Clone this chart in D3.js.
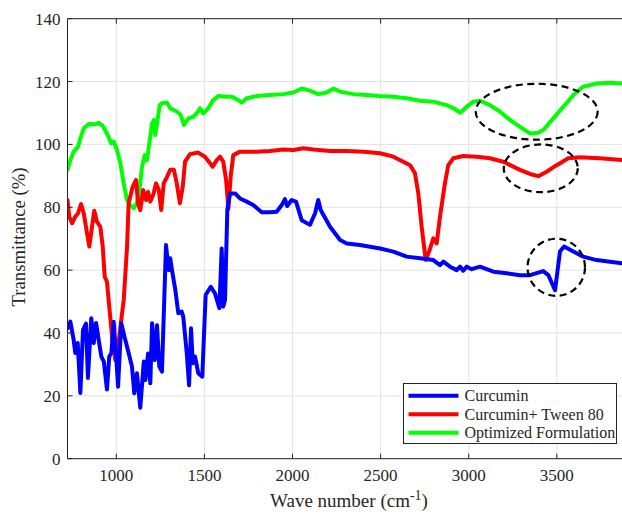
<!DOCTYPE html>
<html><head><meta charset="utf-8">
<script src="https://cdn.jsdelivr.net/npm/d3@7"></script>
<style>body{margin:0;background:#fff}svg{display:block}text{font-family:"Liberation Serif","Times New Roman",serif;fill:#262626}</style>
</head><body><svg id="c" width="622" height="514"></svg>
<script>
const xTicks=[1000,1500,2000,2500,3000,3500];
const yTicks=[0,20,40,60,80,100,120,140];
const seriesNames=["Curcumin","Curcumin+ Tween 80","Optimized Formulation"];
const seriesColors=["#0000ff","#ff0000","#00ff00"];
const curcumin=[[723,41.5],[739,43.6],[758,37.8],[767,33.6],[781,36.8],[796,20.9],[811,41],[828,43],[839,25.7],[858,44.7],[872,36.8],[885,43.2],[900,37.8],[915,32.5],[929,30.9],[947,22],[960,32.5],[972,33.6],[985,43.6],[998,33.6],[1010,22.9],[1028,43.1],[1051,37.8],[1070,33.6],[1089,29.3],[1102,20.8],[1117,27.2],[1136,16.2],[1156,30.9],[1165,25],[1180,33.5],[1193,24],[1203,43.1],[1218,31.4],[1231,42.5],[1244,29.3],[1259,27.7],[1282,68],[1297,60],[1306,63.8],[1316,60],[1335,53.7],[1352,46.3],[1371,46.8],[1380,45.2],[1400,33.5],[1413,23.4],[1424,41.5],[1434,30.4],[1447,32.5],[1465,27.2],[1488,26.1],[1507,52.1],[1536,54.7],[1560,52.6],[1585,47.9],[1598,66.9],[1607,48.4],[1617,50.5],[1630,79.1],[1645,84.4],[1674,84.4],[1702,82.8],[1740,81.8],[1777,80.7],[1825,78.4],[1872,78.4],[1910,78.6],[1939,80.7],[1957,82.6],[1970,80.4],[1995,82.3],[2020,81.8],[2052,75.9],[2099,74.4],[2128,78.1],[2146,82.3],[2160,79.1],[2213,73.8],[2270,69.6],[2308,68.5],[2383,68],[2497,66.9],[2572,65.9],[2648,64.3],[2724,63.8],[2799,63.2],[2837,61.6],[2856,62.7],[2894,61.1],[2932,60],[2951,61.1],[2969,59.8],[2989,61.1],[3017,60.3],[3064,61.1],[3140,59.5],[3216,59],[3291,58.4],[3348,58.4],[3423,59.7],[3452,58.4],[3490,53.6],[3518,65.9],[3541,67.5],[3594,65.9],[3650,64.3],[3726,63.2],[3802,62.7],[3870,62.2]];
const tween=[[723,82.3],[733,77],[749,74.9],[767,77],[783,78.1],[800,81],[815,78.1],[834,71.7],[847,67.5],[862,73.8],[875,78.9],[890,75.4],[909,73.8],[923,67.5],[934,57.9],[947,56.3],[960,48.4],[976,38.8],[994,31.4],[1010,35.6],[1028,44.1],[1042,50.5],[1061,67.5],[1070,81.3],[1093,86.5],[1112,88.7],[1123,81.3],[1136,79.1],[1152,85.5],[1169,82.3],[1180,84.9],[1193,81.8],[1212,84.4],[1225,87.6],[1241,85.5],[1255,79.1],[1269,87.6],[1288,89.7],[1306,91.9],[1327,91.9],[1343,87.6],[1361,81.3],[1377,86.5],[1390,94.5],[1418,96.9],[1465,97.4],[1503,96.1],[1532,94],[1547,92.9],[1570,95],[1589,96.1],[1607,94.5],[1623,88.7],[1636,79.5],[1649,89.7],[1664,96.6],[1702,97.7],[1797,97.7],[1872,97.9],[1948,98.4],[2004,98.2],[2061,98.8],[2118,98.4],[2213,97.9],[2308,97.9],[2402,97.7],[2497,97.2],[2572,96.1],[2629,94.5],[2667,93.4],[2695,90.8],[2714,84.4],[2733,73.8],[2756,63.2],[2775,65.9],[2799,70.1],[2818,68.5],[2837,77],[2865,87.6],[2884,93.4],[2913,95.6],[2969,96.3],[3045,96.1],[3121,95.6],[3196,94.5],[3291,91.9],[3348,90.6],[3395,89.9],[3442,91.3],[3499,93.4],[3565,95.6],[3631,95.9],[3745,95.6],[3870,95]];
const optimized=[[723,91.9],[739,95],[758,97.7],[783,99.3],[796,101.9],[815,105.1],[843,106.5],[881,106.4],[900,106.9],[923,105.9],[947,103.5],[972,100.3],[985,100.9],[1004,98.2],[1023,94],[1042,87.6],[1061,82.3],[1079,80.7],[1099,79.7],[1117,81.3],[1131,85.5],[1146,92.9],[1161,96.6],[1174,95],[1187,100.3],[1203,106.7],[1214,107.8],[1221,103],[1237,108.8],[1246,112.5],[1259,113.1],[1288,113.3],[1306,111.5],[1345,110.4],[1365,109.4],[1384,106.2],[1409,108.3],[1437,108.8],[1456,109.9],[1475,111.5],[1494,109.9],[1522,111.5],[1550,114.1],[1579,115.4],[1627,115.2],[1655,115.2],[1692,114.1],[1712,113.3],[1740,114.7],[1797,115.4],[1872,115.7],[1948,116],[2004,116.5],[2052,117.8],[2099,117.1],[2146,116],[2194,116.5],[2232,117.8],[2270,116.8],[2345,116],[2421,115.7],[2497,115.4],[2572,115.2],[2648,114.7],[2724,113.9],[2799,113.6],[2875,112.5],[2913,111.5],[2954,110.1],[2989,112],[3026,113.6],[3064,113.9],[3121,112.5],[3178,110.4],[3234,107.8],[3291,105.6],[3348,103.5],[3395,103.7],[3423,104.6],[3480,108.3],[3537,112],[3594,115.7],[3650,118.4],[3726,119.4],[3802,119.6],[3870,119.4]];
// highlight ellipses: [center wave, center %, radius in wave units, radius in % units]
const ellipses=[[3386,110.4,346,8.9],[3409,92.4,210,7.6],[3497,60.9,163,9.1]];

const svg=d3.select("#c");
const L=67.5,R=622,T=18.7,B=458.7;
const x=d3.scaleLinear().domain([723,3870]).range([L,R]);
const y=d3.scaleLinear().domain([0,140]).range([B,T]);

// grid
const g=svg.append("g");
g.selectAll(".gx").data(xTicks).join("line").attr("x1",d=>x(d)).attr("x2",d=>x(d)).attr("y1",T).attr("y2",B).attr("stroke","#e3e3e3").attr("stroke-width",1);
g.selectAll(".gy").data(yTicks).join("line").attr("x1",L).attr("x2",R).attr("y1",d=>y(d)).attr("y2",d=>y(d)).attr("stroke","#e3e3e3").attr("stroke-width",1);

// series
const series=[curcumin,tween,optimized];
const line=d3.line().x(d=>x(d[0])).y(d=>y(d[1])).curve(d3.curveLinear);
svg.append("defs").append("clipPath").attr("id","cp").append("rect").attr("x",L).attr("y",T).attr("width",R-L+2).attr("height",B-T);
const lg=svg.append("g").attr("clip-path","url(#cp)");
[2,1,0].forEach(i=>{
  lg.append("path").attr("d",line(series[i])).attr("fill","none").attr("stroke",seriesColors[i]).attr("stroke-width",4).attr("stroke-linejoin","round").attr("stroke-linecap","round");
});

// ellipses
svg.selectAll(".el").data(ellipses).join("ellipse")
  .attr("cx",d=>x(d[0])).attr("cy",d=>y(d[1]))
  .attr("rx",d=>x(d[0]+d[2])-x(d[0])).attr("ry",d=>y(d[1]-d[3])-y(d[1]))
  .attr("fill","none").attr("stroke","#000").attr("stroke-width",2.2).attr("stroke-dasharray","7,4.5");

// axes
const ax=svg.append("g").attr("stroke","#262626").attr("stroke-width",1);
ax.append("line").attr("x1",L).attr("x2",R+1).attr("y1",B).attr("y2",B);
ax.append("line").attr("x1",L).attr("x2",R+1).attr("y1",T).attr("y2",T);
ax.append("line").attr("x1",L).attr("x2",L).attr("y1",T).attr("y2",B);
xTicks.forEach(t=>{
  ax.append("line").attr("x1",x(t)).attr("x2",x(t)).attr("y1",B).attr("y2",B-5);
  ax.append("line").attr("x1",x(t)).attr("x2",x(t)).attr("y1",T).attr("y2",T+5);
});
yTicks.forEach(t=>{
  ax.append("line").attr("x1",L).attr("x2",L+5).attr("y1",y(t)).attr("y2",y(t));
});
svg.selectAll(".xl").data(xTicks).join("text").attr("x",d=>x(d)).attr("y",B+22).attr("text-anchor","middle").attr("font-size",17).text(d=>d);
svg.selectAll(".yl").data(yTicks).join("text").attr("x",L-7).attr("y",d=>y(d)+6).attr("text-anchor","end").attr("font-size",17).text(d=>d);

// axis titles
const xt=svg.append("text").attr("x",349).attr("y",507).attr("text-anchor","middle").attr("font-size",19);
xt.append("tspan").text("Wave number (cm");
xt.append("tspan").attr("dy",-7).attr("font-size",14).text("-1");
xt.append("tspan").attr("dy",7).text(")");
svg.append("text").attr("transform","translate(25,237) rotate(-90)").attr("text-anchor","middle").attr("font-size",18.7).text("Transmittance (%)");

// legend
const lgX=403.5,lgY=383.5,lgW=213,lgH=60;
svg.append("rect").attr("x",lgX).attr("y",lgY).attr("width",lgW).attr("height",lgH).attr("fill","#fff").attr("stroke","#262626").attr("stroke-width",1);
seriesNames.forEach((n,i)=>{
  const cy=lgY+12.3+i*18.5;
  svg.append("line").attr("x1",lgX+5).attr("x2",lgX+55).attr("y1",cy).attr("y2",cy).attr("stroke",seriesColors[i]).attr("stroke-width",4);
  svg.append("text").attr("x",lgX+61).attr("y",cy+5.5).attr("font-size",16).text(n);
});
</script></body></html>
